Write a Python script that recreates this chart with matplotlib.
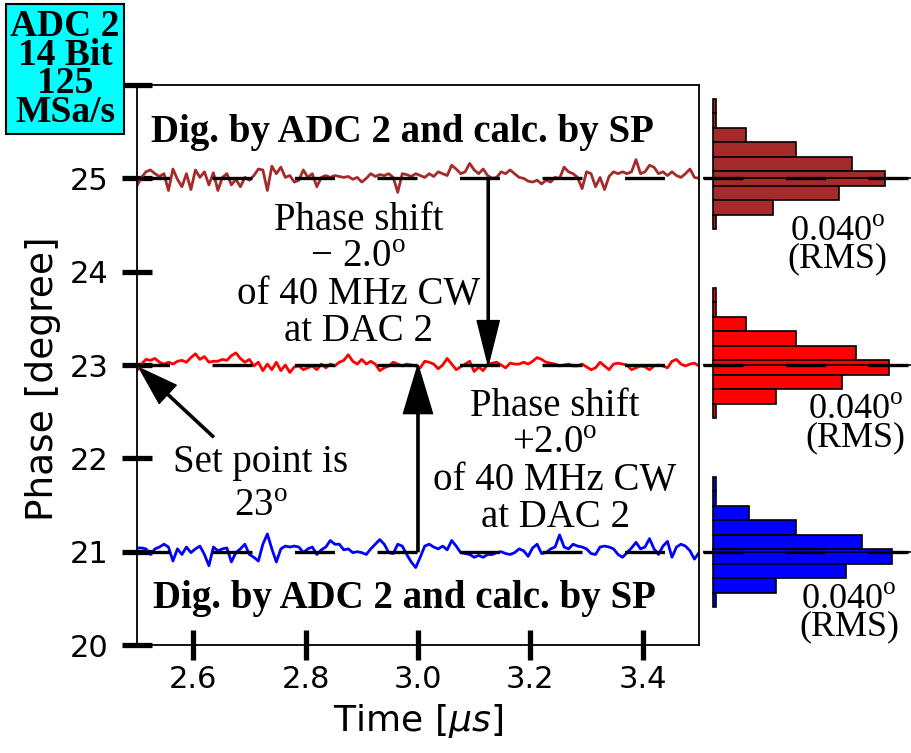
import numpy as np
import matplotlib
matplotlib.use('Agg')
import matplotlib.pyplot as plt

plt.rcParams['font.family'] = 'DejaVu Sans'
plt.rcParams['mathtext.fontset'] = 'custom'
plt.rcParams['mathtext.rm'] = 'Liberation Serif'
plt.rcParams['mathtext.it'] = 'DejaVu Sans:italic'
plt.rcParams['mathtext.bf'] = 'Liberation Serif:bold'
plt.rcParams['lines.scale_dashes'] = False

# phase samples at 125 MSa/s over 1 us (ADC 2, computed by SP)
t_start = 2.5
t_step = 0.008

phase_hi = [24.92, 25.01, 25.07, 25.09, 25.05, 25.02, 25.05, 24.87, 25.10, 24.99,
            24.91, 25.05, 24.88, 25.09, 25.01, 25.07, 24.93, 25.06, 24.87, 25.01,
            25.05, 24.93, 24.99, 24.91, 25.01, 24.98, 25.03, 25.10, 25.09, 24.87,
            25.13, 25.05, 25.12, 25.01, 25.03, 24.96, 24.98, 25.09, 25.01, 25.05,
            24.91, 25.01, 25.03, 25.01, 25.03, 25.02, 25.01, 25.02, 24.99, 25.01,
            24.96, 25.00, 25.05, 25.02, 25.04, 25.03, 25.05, 25.01, 24.85, 25.05,
            25.04, 25.02, 25.05, 25.03, 25.01, 25.05, 25.02, 25.07, 25.05, 25.03,
            25.14, 25.10, 25.05, 25.07, 25.16, 25.09, 25.05, 25.10, 25.03, 25.00,
            25.01, 25.07, 25.05, 25.09, 25.05, 25.01, 25.00, 24.97, 24.96, 24.98,
            24.94, 24.98, 24.96, 25.01, 25.00, 25.12, 25.07, 25.05, 25.01, 24.89,
            25.07, 25.05, 24.91, 25.01, 24.88, 25.02, 25.07, 25.05, 25.07, 25.05,
            25.07, 25.20, 25.05, 25.07, 25.14, 25.12, 25.05, 25.07, 25.03, 25.07,
            25.03, 25.01, 25.05, 25.10, 25.01, 25.00]

phase_mid = [22.94, 23.01, 23.06, 23.05, 23.07, 23.03, 23.01, 23.03, 23.01, 23.04,
             23.05, 23.03, 23.08, 23.12, 23.06, 23.09, 23.03, 23.04, 23.04, 23.06,
             23.05, 23.10, 23.13, 23.07, 23.03, 23.06, 22.99, 23.03, 22.94, 23.01,
             22.95, 23.03, 22.94, 23.00, 22.92, 22.98, 22.99, 22.95, 22.97, 22.99,
             22.95, 23.01, 22.97, 23.01, 22.99, 23.03, 23.05, 23.11, 23.04, 23.01,
             23.06, 23.01, 23.04, 23.01, 22.94, 22.97, 22.99, 23.03, 23.01, 22.99,
             23.01, 23.00, 22.99, 22.97, 23.04, 23.03, 23.01, 22.96, 23.00, 23.07,
             23.01, 22.95, 22.98, 23.01, 23.04, 22.93, 22.98, 22.94, 23.01, 23.02,
             23.03, 23.00, 22.97, 23.02, 23.01, 23.01, 23.03, 23.01, 23.04, 23.08,
             23.06, 23.03, 23.02, 23.01, 22.99, 23.00, 23.01, 22.99, 22.99, 23.01,
             22.98, 22.95, 22.97, 23.03, 22.99, 22.95, 23.01, 23.02, 23.01, 23.00,
             22.95, 22.97, 22.99, 22.98, 22.95, 22.99, 23.00, 22.99, 22.97, 23.04,
             23.06, 23.01, 22.99, 23.01, 23.02, 22.99]

phase_lo = [21.04, 21.04, 21.03, 20.97, 21.03, 21.05, 21.08, 21.05, 20.90, 21.03,
            20.97, 21.05, 20.99, 21.03, 21.06, 20.97, 20.85, 21.05, 21.01, 21.03,
            21.04, 20.89, 20.99, 21.03, 21.08, 20.97, 20.94, 20.90, 21.08, 21.19,
            21.03, 20.89, 21.03, 21.06, 21.05, 21.06, 21.05, 20.99, 21.03, 21.05,
            20.97, 21.02, 21.05, 21.12, 21.08, 21.08, 21.02, 21.03, 20.99, 21.00,
            20.99, 20.97, 21.03, 21.08, 21.13, 21.08, 20.99, 20.98, 21.08, 21.06,
            20.97, 20.89, 20.83, 20.94, 21.06, 21.08, 21.05, 21.03, 21.06, 21.02,
            21.12, 21.06, 20.99, 20.98, 20.97, 20.94, 20.96, 20.94, 20.97, 20.97,
            20.99, 21.00, 20.98, 20.97, 20.99, 21.03, 21.01, 20.95, 21.04, 21.08,
            20.98, 20.99, 21.03, 21.05, 21.18, 21.05, 21.03, 21.08, 21.06, 21.05,
            21.03, 20.98, 20.97, 21.05, 21.06, 21.05, 21.03, 20.97, 20.94, 20.99,
            21.04, 21.10, 21.03, 21.05, 21.14, 21.03, 20.97, 21.06, 21.11, 20.94,
            21.05, 21.08, 21.06, 21.01, 20.92, 20.99]

set_points = [25, 23, 21]
trace_colors = ['#a52a2a', '#ff0000', '#0000ff']
y_ticks = [20, 21, 22, 23, 24, 25, 26]
y_ticklabels = ['20', '21', '22', '23', '24', '25', '']

# histogram of deviation from set point (deg) for each trace
hist_bin_width = 0.028
hist_centers_hi = [0.140, 0.112, 0.084, 0.056, 0.028, 0.000, -0.028, -0.056, -0.084]
hist_centers_mid = [0.135, 0.107, 0.079, 0.051, 0.023, -0.005, -0.033, -0.061, -0.089]
hist_centers_lo = [0.131, 0.103, 0.075, 0.047, 0.019, -0.009, -0.037, -0.065, -0.093]
hist_counts_hi = [1, 1, 10, 25, 42, 52, 38, 18, 1]
hist_counts_mid = [1, 1, 10, 25, 43, 53, 39, 19, 1]
hist_counts_lo = [1, 1, 11, 25, 45, 54, 40, 19, 1]
rms_text = r'0.040$^{\rm o}$' + '\n(RMS)'

serif = 'Liberation Serif'

fig = plt.figure(figsize=(9.12, 7.53), dpi=100)
ax = fig.add_axes([0.1502, 0.1434, 0.6162, 0.7437])

t = t_start + t_step * np.arange(len(phase_hi))
for y, c in zip([phase_hi, phase_mid, phase_lo], trace_colors):
    ax.plot(t, y, color=c, lw=2.0, zorder=2)

dash = (5.4, (28.8, 30.6))
for sp in set_points:
    ax.plot([2.5, 3.5], [sp, sp], color='black', lw=2.4, ls=dash, zorder=3)

ax.set_xlim(2.5, 3.5)
ax.set_ylim(20, 26)
ax.set_xticks([2.6, 2.8, 3.0, 3.2, 3.4])
ax.set_yticks(y_ticks)
ax.set_yticklabels(y_ticklabels)
ax.tick_params(direction='inout', length=21, width=3.8, labelsize=22)
ax.tick_params(axis='x', pad=4)
ax.tick_params(axis='y', pad=10)
for s in ax.spines.values():
    s.set_linewidth(1.3)
ax.set_xlabel(r'Time [$\mu s$]', fontsize=26, labelpad=6)
ax.set_ylabel('Phase [degree]', fontsize=27)
ax.yaxis.set_label_coords(-0.136, 0.475)

# headlines
ax.text(2.972, 25.39, 'Dig. by ADC 2 and calc. by SP', family=serif,
        weight='bold', fontsize=28, ha='center', va='baseline')
ax.text(2.976, 20.40, 'Dig. by ADC 2 and calc. by SP', family=serif,
        weight='bold', fontsize=28, ha='center', va='baseline')

# phase step arrows
ax.annotate('', xy=(3.125, 23.0), xytext=(3.125, 25.0),
            arrowprops=dict(facecolor='black', edgecolor='black', width=1.6,
                            headwidth=16, headlength=32, shrink=0))
ax.annotate('', xy=(3.0, 23.0), xytext=(3.0, 21.0),
            arrowprops=dict(facecolor='black', edgecolor='black', width=1.6,
                            headwidth=21, headlength=35, shrink=0))
ax.annotate('', xy=(2.504, 22.97), xytext=(2.636, 22.23),
            arrowprops=dict(facecolor='black', edgecolor='black', width=1.6,
                            headwidth=18, headlength=28, shrink=0))

ax.text(2.894, 23.95, 'Phase shift\n' + r'$-\;2.0^{\rm o}$' + '\nof 40 MHz CW\nat DAC 2',
        family=serif, fontsize=28, ha='center', va='center',
        multialignment='center', linespacing=1.0)
ax.text(3.244, 21.96, 'Phase shift\n' + r'$+2.0^{\rm o}$' + '\nof 40 MHz CW\nat DAC 2',
        family=serif, fontsize=28, ha='center', va='center',
        multialignment='center', linespacing=1.0)
ax.text(2.72, 21.72, 'Set point is\n' + r'23$^{\rm o}$', family=serif,
        fontsize=28, ha='center', va='center', multialignment='center',
        linespacing=1.25)

# histograms beside each trace; the text baseline is that of "(RMS)"
hists = [(hist_centers_hi, hist_counts_hi, 37.6, -0.172),
         (hist_centers_mid, hist_counts_mid, 43.0, -0.156),
         (hist_centers_lo, hist_counts_lo, 41.0, -0.162)]
for (centers, counts, tx, ty), sp, c in zip(hists, set_points, trace_colors):
    yc = 0.1434 + (sp - 20) / 6 * 0.7437
    hax = fig.add_axes([703 / 912, yc - 0.1328, 209 / 912, 0.2656])
    hax.barh(centers, counts, height=hist_bin_width, color=c,
             edgecolor='black', linewidth=1.2)
    hax.axhline(0, color='black', lw=1.2)
    hax.plot([-3, 60], [0, 0], color='black', lw=2.4, ls=(0, (28.8, 30.6)))
    hax.set_xlim(-3, 60)
    hax.set_ylim(-0.193, 0.193)
    hax.axis('off')
    hax.text(tx, ty, rms_text, family=serif, fontsize=26, ha='center',
             va='baseline', multialignment='center', linespacing=0.75)

fig.text(0.0713, 0.908, 'ADC 2\n14 Bit\n125\nMSa/s', family=serif,
         weight='bold', fontsize=27, ha='center', va='center',
         multialignment='center', linespacing=0.76,
         bbox=dict(boxstyle='square,pad=0.12', facecolor='cyan',
                   edgecolor='black', linewidth=1.5))

fig.savefig('out.png', dpi=100)
